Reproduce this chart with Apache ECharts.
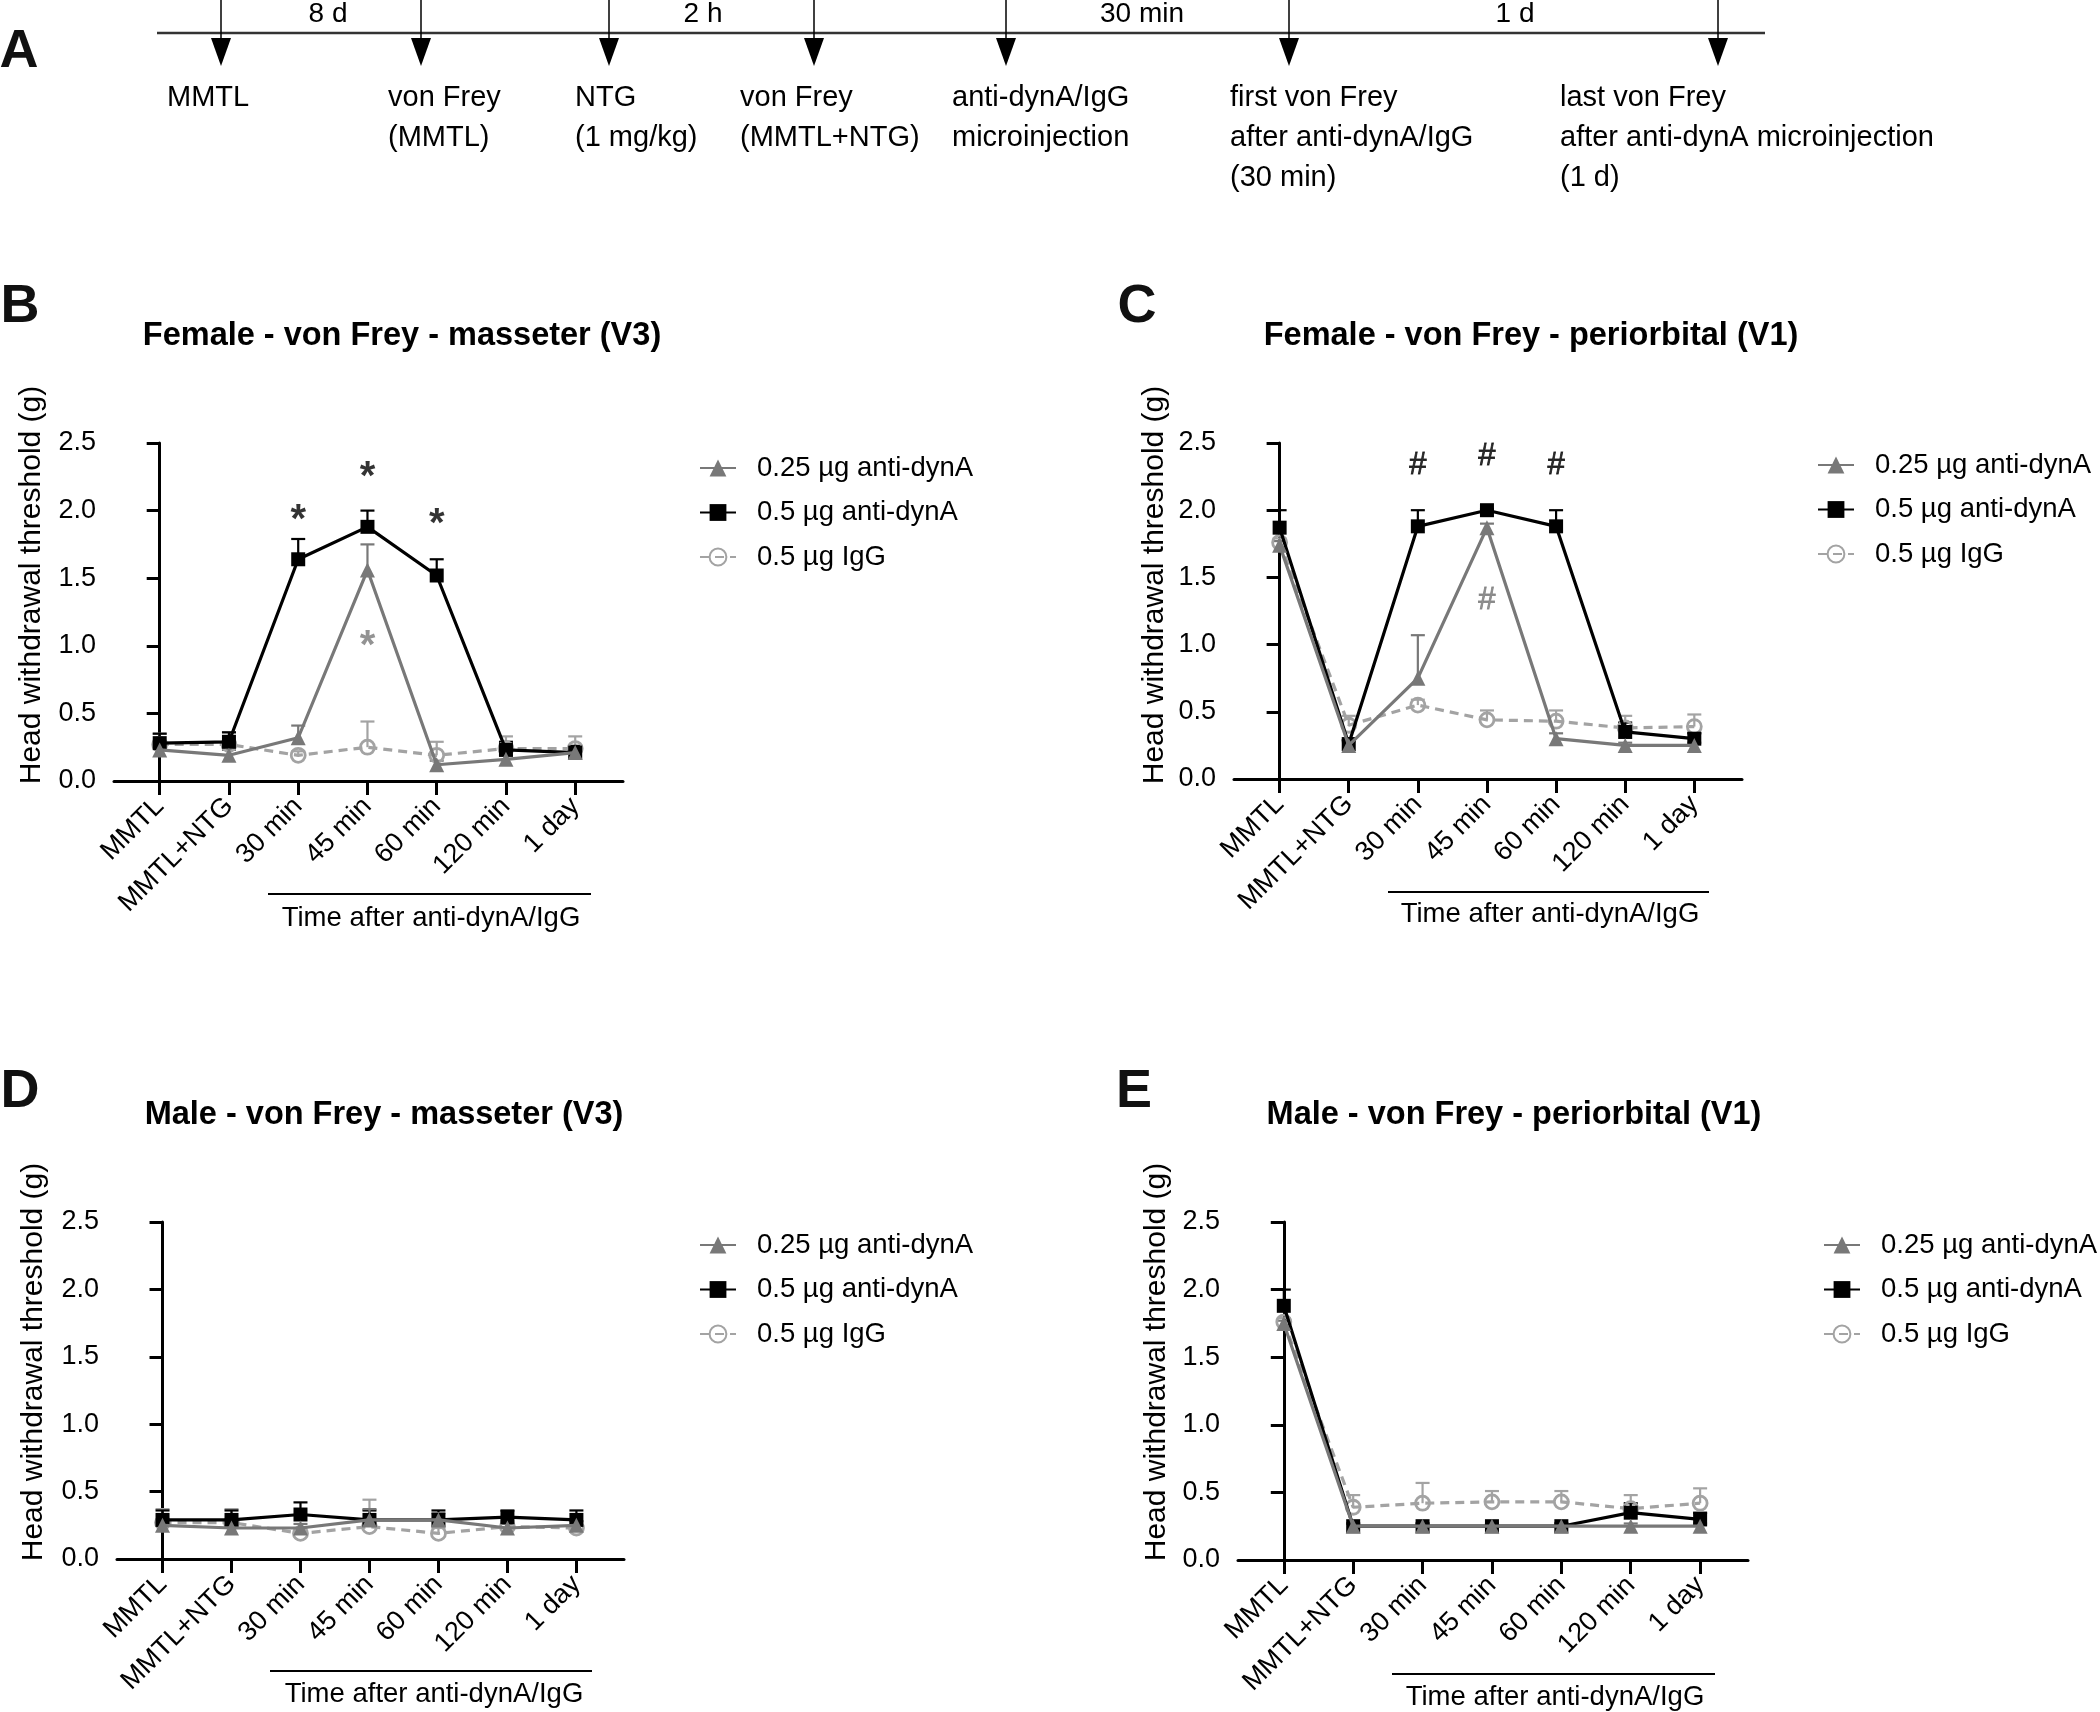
<!DOCTYPE html>
<html><head><meta charset="utf-8">
<script src="https://cdn.jsdelivr.net/npm/echarts@6/dist/echarts.min.js"></script>
<style>html,body{margin:0;padding:0;background:#fff}#c{width:2100px;height:1712px}</style>
</head><body><div id="c"></div>
<script>
// ---------- data ----------
const categories = ['MMTL', 'MMTL+NTG', '30 min', '45 min', '60 min', '120 min', '1 day'];
const groupNames = ['0.25 µg anti-dynA', '0.5 µg anti-dynA', '0.5 µg IgG'];
const yTickLabels = ['0.0', '0.5', '1.0', '1.5', '2.0', '2.5'];
const bracketLabel = 'Time after anti-dynA/IgG';

// Panel B: Female - masseter (V3)
const bLowMean  = [0.23, 0.19, 0.32, 1.56, 0.12, 0.16, 0.21];
const bLowSem   = [0.05, 0.04, 0.09, 0.19, 0.03, 0.03, 0.04];
const bHighMean = [0.28, 0.29, 1.64, 1.88, 1.52, 0.23, 0.21];
const bHighSem  = [0.07, 0.07, 0.15, 0.12, 0.12, 0.06, 0.05];
const bIggMean  = [0.27, 0.27, 0.19, 0.25, 0.19, 0.24, 0.24];
const bIggSem   = [0.08, 0.09, 0.03, 0.19, 0.10, 0.09, 0.09];
const bMarksHigh = [[2, 1.99, '*'], [3, 2.31, '*'], [4, 1.96, '*']];
const bMarksLow  = [[3, 1.06, '*']];

// Panel C: Female - periorbital (V1)
const cLowMean  = [1.74, 0.25, 0.75, 1.87, 0.30, 0.25, 0.25];
const cLowSem   = [0.03, 0.03, 0.32, 0.03, 0.04, 0.02, 0.02];
const cHighMean = [1.87, 0.26, 1.88, 2.00, 1.88, 0.35, 0.30];
const cHighSem  = [0.13, 0.03, 0.12, 0.01, 0.12, 0.07, 0.04];
const cIggMean  = [1.76, 0.40, 0.55, 0.44, 0.43, 0.38, 0.39];
const cIggSem   = [0.03, 0.07, 0.04, 0.07, 0.08, 0.09, 0.09];
const cMarksHigh = [[2, 2.33, '#'], [3, 2.40, '#'], [4, 2.33, '#']];
const cMarksLow  = [[3, 1.33, '#']];

// Panel D: Male - masseter (V3)
const dLowMean  = [0.25, 0.23, 0.23, 0.29, 0.29, 0.23, 0.25];
const dLowSem   = [0.04, 0.03, 0.03, 0.08, 0.05, 0.03, 0.03];
const dHighMean = [0.29, 0.29, 0.33, 0.29, 0.29, 0.31, 0.29];
const dHighSem  = [0.07, 0.07, 0.09, 0.07, 0.07, 0.05, 0.07];
const dIggMean  = [0.27, 0.27, 0.19, 0.24, 0.19, 0.24, 0.23];
const dIggSem   = [0.10, 0.10, 0.04, 0.20, 0.04, 0.04, 0.05];

// Panel E: Male - periorbital (V1)
const eLowMean  = [1.75, 0.25, 0.25, 0.25, 0.25, 0.25, 0.25];
const eLowSem   = [0.02, 0.02, 0.02, 0.02, 0.02, 0.02, 0.02];
const eHighMean = [1.88, 0.25, 0.25, 0.25, 0.25, 0.35, 0.30];
const eHighSem  = [0.12, 0.02, 0.02, 0.02, 0.02, 0.07, 0.05];
const eIggMean  = [1.76, 0.39, 0.42, 0.43, 0.43, 0.38, 0.42];
const eIggSem   = [0.03, 0.09, 0.15, 0.08, 0.08, 0.10, 0.11];

// Panel A timeline texts
const intervalLabels = ['8 d', '2 h', '30 min', '1 d'];
const eventLabels = [
  ['MMTL'],
  ['von Frey', '(MMTL)'],
  ['NTG', '(1 mg/kg)'],
  ['von Frey', '(MMTL+NTG)'],
  ['anti-dynA/IgG', 'microinjection'],
  ['first von Frey', 'after anti-dynA/IgG', '(30 min)'],
  ['last von Frey', 'after anti-dynA microinjection', '(1 d)']
];
const panelTitles = ['Female - von Frey - masseter (V3)', 'Female - von Frey - periorbital (V1)',
                     'Male - von Frey - masseter (V3)', 'Male - von Frey - periorbital (V1)'];
const panelLetters = ['A', 'B', 'C', 'D', 'E'];
const yAxisName = 'Head withdrawal threshold (g)';

// ---------- layout / style ----------
const FF = '"Liberation Sans", Arial, Helvetica, sans-serif';
const COL_LOW = '#787878', COL_HIGH = '#000000', COL_IGG = '#a3a3a3';

const panels = [
  { grid: {left: 114, top: 443, width: 509, height: 338}, low: bLowMean, lowS: bLowSem, high: bHighMean, highS: bHighSem, igg: bIggMean, iggS: bIggSem,
    marksHigh: bMarksHigh, marksLow: bMarksLow, legend: {left: 699, top: 452},
    title: [402, 336], letter: [20, 307], yname: [32, 585], bracket: [268, 591, 894], btext: [431, 918] },
  { grid: {left: 1234, top: 443, width: 508, height: 336}, low: cLowMean, lowS: cLowSem, high: cHighMean, highS: cHighSem, igg: cIggMean, iggS: cIggSem,
    marksHigh: cMarksHigh, marksLow: cMarksLow, legend: {left: 1817, top: 449},
    title: [1531, 336], letter: [1137, 307], yname: [1155, 585], bracket: [1388, 1709, 892], btext: [1550, 914] },
  { grid: {left: 117, top: 1222, width: 507, height: 337}, low: dLowMean, lowS: dLowSem, high: dHighMean, highS: dHighSem, igg: dIggMean, iggS: dIggSem,
    marksHigh: [], marksLow: [], legend: {left: 699, top: 1229},
    title: [384, 1115], letter: [20, 1092], yname: [34, 1362], bracket: [270, 592, 1671], btext: [434, 1694] },
  { grid: {left: 1238, top: 1222, width: 510, height: 338}, low: eLowMean, lowS: eLowSem, high: eHighMean, highS: eHighSem, igg: eIggMean, iggS: eIggSem,
    marksHigh: [], marksLow: [], legend: {left: 1823, top: 1229},
    title: [1514, 1115], letter: [1134, 1092], yname: [1157, 1362], bracket: [1392, 1715, 1674], btext: [1555, 1697] }
];

const chart = echarts.init(document.getElementById('c'), null, {renderer: 'canvas'});

function pairs(vals) { return vals.map((v, i) => [i, v]); }
function errData(mean, sem) { return mean.map((v, i) => [i, v, +(v + sem[i]).toFixed(3)]); }
function errRender(color) {
  return function (params, api) {
    const p0 = api.coord([api.value(0), api.value(1)]);
    const p1 = api.coord([api.value(0), api.value(2)]);
    return { type: 'group', children: [
      { type: 'line', shape: {x1: p0[0], y1: p0[1], x2: p1[0], y2: p1[1]}, style: {stroke: color, lineWidth: 2.2} },
      { type: 'line', shape: {x1: p1[0] - 7, y1: p1[1], x2: p1[0] + 7, y2: p1[1]}, style: {stroke: color, lineWidth: 2.2} }
    ]};
  };
}

const grids = [], xAxes = [], yAxes = [], series = [], legends = [], graphics = [];

panels.forEach((p, k) => {
  grids.push(Object.assign({outerBoundsMode: 'none', containLabel: false}, p.grid));
  xAxes.push({
    type: 'value', gridIndex: k, min: -0.66, max: 6.69,
    axisLine: {show: true, onZero: false, lineStyle: {color: '#000', width: 3}},
    axisTick: {show: true, customValues: [0, 1, 2, 3, 4, 5, 6], length: 14, lineStyle: {color: '#000', width: 3}},
    axisLabel: {show: true, customValues: [0, 1, 2, 3, 4, 5, 6], rotate: 45, margin: 21,
      formatter: v => categories[Math.round(v)], color: '#000', fontSize: 27, fontFamily: FF},
    splitLine: {show: false}
  });
  yAxes.push({
    type: 'value', gridIndex: k, min: 0, max: 2.5, interval: 0.5,
    axisLine: {show: true, lineStyle: {color: '#000', width: 3}},
    axisTick: {show: true, length: 13, lineStyle: {color: '#000', width: 3}},
    axisLabel: {formatter: v => yTickLabels[Math.round(v * 2)], color: '#000', fontSize: 27, fontFamily: FF, margin: 18},
    splitLine: {show: false}
  });
  // error bars
  [[p.igg, p.iggS, COL_IGG], [p.high, p.highS, COL_HIGH], [p.low, p.lowS, COL_LOW]].forEach(([m, s, c]) => {
    series.push({ type: 'custom', xAxisIndex: k, yAxisIndex: k, data: errData(m, s), renderItem: errRender(c),
      encode: {x: 0, y: [1, 2]}, silent: true, z: 1 });
  });
  series.push({ name: groupNames[2], type: 'line', xAxisIndex: k, yAxisIndex: k, data: pairs(p.igg),
    symbol: 'circle', symbolSize: 14,
    lineStyle: {color: COL_IGG, width: 3.2, type: [9, 6]},
    itemStyle: {color: 'rgba(255,255,255,0)', borderColor: COL_IGG, borderWidth: 2.8}, z: 2 });
  series.push({ name: groupNames[1], type: 'line', xAxisIndex: k, yAxisIndex: k, data: pairs(p.high),
    symbol: 'rect', symbolSize: 14,
    lineStyle: {color: COL_HIGH, width: 3.2}, itemStyle: {color: COL_HIGH}, z: 3 });
  series.push({ name: groupNames[0], type: 'line', xAxisIndex: k, yAxisIndex: k, data: pairs(p.low),
    symbol: 'triangle', symbolSize: 15,
    lineStyle: {color: COL_LOW, width: 3.2}, itemStyle: {color: COL_LOW}, z: 4 });
  // significance marks
  [[p.marksHigh, '#000'], [p.marksLow, COL_LOW]].forEach(([d, c]) => {
    if (!d.length) return;
    const isStar = d[0][2] === '*';
    series.push({ type: 'scatter', xAxisIndex: k, yAxisIndex: k, data: d, symbolSize: 0, silent: true, z: 5,
      label: {show: true, position: 'inside', formatter: q => q.value[2], color: c,
        fontSize: isStar ? 40 : 31, fontWeight: isStar ? 'bold' : 'normal', fontFamily: FF,
        textBorderColor: isStar ? 'transparent' : c, textBorderWidth: isStar ? 0 : 0.8,
        offset: isStar ? [0, 9] : [0, 0]} });
  });
  legends.push({
    data: groupNames, orient: 'vertical', left: p.legend.left, top: p.legend.top, padding: 0,
    itemWidth: 36, itemHeight: 21, itemGap: 12.5, selectedMode: false,
    textStyle: {fontSize: 27.5, fontFamily: FF, color: '#000', lineHeight: 32, padding: [0, 0, 0, 16]}
  });
  // titles / letters / y names / brackets
  graphics.push({ type: 'text', x: p.title[0], y: p.title[1], style: {text: panelTitles[k], font: 'bold 32.5px ' + FF, fill: '#000', align: 'center', verticalAlign: 'middle'} });
  graphics.push({ type: 'text', x: p.letter[0], y: p.letter[1], style: {text: panelLetters[k + 1], font: 'bold 54px ' + FF, fill: '#111', align: 'center', verticalAlign: 'middle'} });
  graphics.push({ type: 'text', x: p.yname[0], y: p.yname[1], rotation: Math.PI / 2, style: {text: yAxisName, font: '30px ' + FF, fill: '#000', align: 'center', verticalAlign: 'middle'} });
  graphics.push({ type: 'line', shape: {x1: p.bracket[0], y1: p.bracket[2], x2: p.bracket[1], y2: p.bracket[2]}, style: {stroke: '#000', lineWidth: 2} });
  graphics.push({ type: 'text', x: p.btext[0], y: p.btext[1], style: {text: bracketLabel, font: '27.5px ' + FF, fill: '#000', align: 'center', verticalAlign: 'middle'} });
});

// Panel A timeline
const arrowX = [221, 421, 609, 814, 1006, 1289, 1718];
const intervalX = [328, 703, 1142, 1515];
const eventX = [167, 388, 575, 740, 952, 1230, 1560];
graphics.push({ type: 'text', x: 19, y: 52, style: {text: panelLetters[0], font: 'bold 54px ' + FF, fill: '#111', align: 'center', verticalAlign: 'middle'} });
graphics.push({ type: 'line', shape: {x1: 157, y1: 33, x2: 1765, y2: 33}, style: {stroke: '#333', lineWidth: 2.5} });
arrowX.forEach(x => {
  graphics.push({ type: 'line', shape: {x1: x, y1: 0, x2: x, y2: 42}, style: {stroke: '#000', lineWidth: 1.5} });
  graphics.push({ type: 'polygon', shape: {points: [[x - 10, 38], [x + 10, 38], [x, 66]]}, style: {fill: '#000'} });
});
intervalLabels.forEach((t, i) => {
  graphics.push({ type: 'text', x: intervalX[i], y: 14, style: {text: t, font: '28px ' + FF, fill: '#000', align: 'center', verticalAlign: 'middle'} });
});
eventLabels.forEach((lines, i) => {
  lines.forEach((t, j) => {
    graphics.push({ type: 'text', x: eventX[i], y: 98 + j * 40, style: {text: t, font: '29px ' + FF, fill: '#000', align: 'left', verticalAlign: 'middle'} });
  });
});

chart.setOption({
  animation: false,
  backgroundColor: '#fff',
  grid: grids, xAxis: xAxes, yAxis: yAxes, series: series, legend: legends,
  graphic: graphics
});
</script></body></html>
